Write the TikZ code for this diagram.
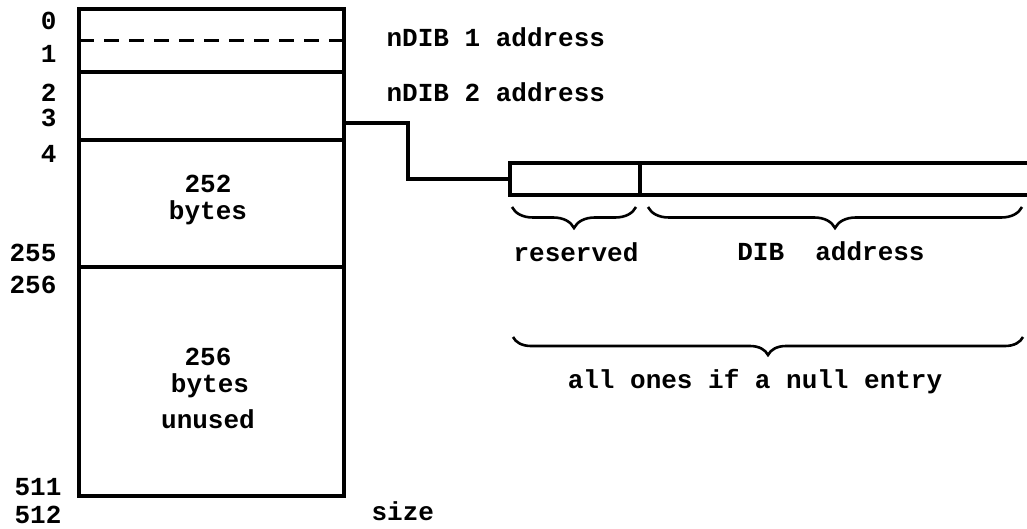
\documentclass[tikz,border=0pt]{standalone}
\usepackage{fontspec}
\setmonofont{Liberation Mono}
\usetikzlibrary{decorations.pathreplacing}
\begin{document}
\begin{tikzpicture}[x=0.5pt,y=-0.5pt,line width=1.6pt,
    font=\ttfamily\bfseries\fontsize{13}{15}\selectfont,
    seg/.style={draw,minimum width=132.5pt,anchor=north west,inner sep=0pt,outer sep=0pt},
    idx/.style={anchor=base east,inner sep=0pt},
    txt/.style={anchor=base west,inner sep=0pt},
    lbl/.style={anchor=base,inner sep=0pt},
    brc/.style={decorate,decoration={brace,mirror,amplitude=#1},line width=1.3pt}]
    \useasboundingbox (0,0) rectangle (1027,529);
    % 512-byte block
    \node[seg,minimum height=31.5pt] (s0) at (79,9) {};
    \node[seg,minimum height=34pt] (s2) at (79,72) {};
    \node[seg,minimum height=63.5pt] (s4) at (79,140) {};
    \node[seg,minimum height=114.5pt] (s256) at (79,267) {};
    \draw[dash pattern=on 7.5pt off 5pt,line width=1.3pt] (s0.west) -- (s0.east);
    \node[idx] (o0) at (58,30) {0};
    \node[idx] (o1) at (58,63) {1};
    \node[idx] (o2) at (58,102) {2};
    \node[idx] (o3) at (58,127) {3};
    \node[idx] (o4) at (58,163) {4};
    \node[idx] (o255) at (58,262) {255};
    \node[idx] (o256) at (58,293) {256};
    \node[idx] (o511) at (63,495) {511};
    \node[idx] (o512) at (63,523) {512};
    \node[txt] (size) at (370,520) {size};
    \node[lbl] (n252) at (208,193) {252};
    \node[lbl] (n252b) at (208,220) {bytes};
    \node[lbl] (n256) at (208,365) {256};
    \node[lbl] (n256b) at (210,392) {bytes};
    \node[lbl] (n256u) at (208,428) {unused};
    \node[txt] (d1) at (385,47) {nDIB 1 address};
    \node[txt] (d2) at (385,102) {nDIB 2 address};
    % entry
    \node[draw,minimum width=65pt,minimum height=16pt,anchor=north west,inner sep=0pt,outer sep=0pt] (resv) at (510,163) {};
    \node[minimum width=193.5pt,minimum height=16pt,anchor=north west,inner sep=0pt,outer sep=0pt] (dib) at (640,163) {};
    \draw (dib.north west) -- (dib.north east) (dib.south west) -- (dib.south east);
    \coordinate (tap) at (344,123);
    \draw (tap) -- ++(64,0) |- (resv.west);
    \draw[brc=10.5pt] (512,207) -- (636,207);
    \draw[brc=10.5pt] (648,207) -- (1022,207);
    \draw[brc=9pt] (513,337) -- (1023,337);
    \node[lbl] (rsv) at (576,262) {reserved};
    \node[lbl] (dibaddr) at (831,260) {DIB~~address};
    \node[lbl] (null) at (755,388) {all ones if a null entry};
\end{tikzpicture}
\end{document}
